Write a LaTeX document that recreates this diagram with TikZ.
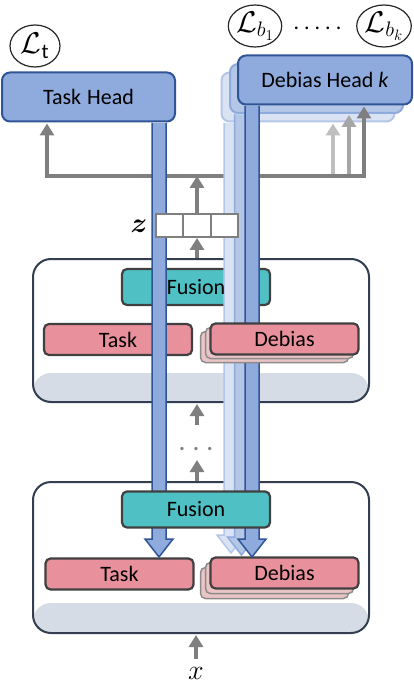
\documentclass[tikz,border=0pt]{standalone}
\usepackage{fix-cm}
\usepackage{amsmath}
\usepackage{fontspec}
\setmainfont{Carlito}
\usetikzlibrary{arrows.meta,shapes.geometric,calc}
\definecolor{hfill}{HTML}{8FAADC}
\definecolor{hdraw}{HTML}{2F5597}
\definecolor{htwofill}{HTML}{B4C7E7}
\definecolor{htwodraw}{HTML}{8FAADC}
\definecolor{hthreefill}{HTML}{DAE3F3}
\definecolor{hthreedraw}{HTML}{B4C7E7}
\definecolor{fusfill}{HTML}{4FC1C5}
\definecolor{pinkfill}{HTML}{E8909C}
\definecolor{shfill}{HTML}{EBC4C5}
\definecolor{shdraw}{HTML}{8C8C8C}
\definecolor{bline}{HTML}{404040}
\definecolor{cline}{HTML}{333F50}
\definecolor{bandfill}{HTML}{D6DCE5}
\definecolor{garr}{HTML}{7F7F7F}
\definecolor{garrtwo}{HTML}{A6A6A6}
\definecolor{garrthree}{HTML}{BFBFBF}
\tikzset{
  lbl/.style={font=\fontsize{22}{26}\selectfont},
  blockbox/.style={lbl, draw=bline, line width=2.2pt, rounded corners=5pt, inner sep=0pt},
  fusionbox/.style={blockbox, fill=fusfill, minimum width=148pt, minimum height=36pt},
  taskbox/.style={blockbox, fill=pinkfill, minimum width=148pt, minimum height=31pt},
  shadowbox/.style={draw=shdraw, fill=shfill, line width=1.5pt, rounded corners=5pt, minimum width=148pt, minimum height=31pt, inner sep=0pt},
  headbox/.style={lbl, rounded corners=8pt, line width=2pt, minimum width=173pt, minimum height=49pt, inner sep=0pt},
  container/.style={draw=cline, fill=white, line width=2pt, rounded corners=18pt, inner sep=0pt,
    path picture={\fill[bandfill] ([yshift=#1]path picture bounding box.south west) rectangle (path picture bounding box.south east);}},
  lossnode/.style={ellipse, draw=black!85, line width=1.2pt, minimum width=50pt, minimum height=42pt, inner sep=0pt, font=\fontsize{30}{34}\selectfont},
  garrow/.style={draw=garr, line width=4pt, -{Triangle[width=14pt,length=12pt]}},
  zcell/.style={draw=garr, fill=white, line width=2pt, minimum width=27.3pt, minimum height=23pt, inner sep=0pt},
}
\newcommand{\mybluebar}[5]{%
  \fill[#4] ({#1-7},#2) -- ({#1-7},{#3-18}) -- ({#1-14},{#3-18}) -- (#1,#3) -- ({#1+14},{#3-18}) -- ({#1+7},{#3-18}) -- ({#1+7},#2) -- cycle;
  \draw[#5, line width=1.5pt, line join=miter] ({#1-7},#2) -- ({#1-7},{#3-18}) -- ({#1-14},{#3-18}) -- (#1,#3) -- ({#1+14},{#3-18}) -- ({#1+7},{#3-18}) -- ({#1+7},#2);}
\begin{document}
\begin{tikzpicture}[x=1pt,y=-1pt]
\useasboundingbox (0,0) rectangle (414,684);
% containers
\node[container=29pt, minimum width=336pt, minimum height=143pt] (up) at (201,330.5) {};
\node[container=30pt, minimum width=336pt, minimum height=151pt] (lo) at (201,557.5) {};
% heads
\node[headbox, fill=hthreefill, draw=hthreedraw] (dh3) at (308,97) {};
\node[headbox, fill=htwofill, draw=htwodraw] (dh2) at (316.5,88.5) {};
\node[headbox, fill=hfill, draw=hdraw, minimum width=174pt] (dh1) at (325,80) {Debias Head \textit{k}};
\node[headbox, fill=hfill, draw=hdraw] (taskhead) at (88.5,97) {Task\hspace{1pt} Head};
% gray connectors to heads
\coordinate (lx) at (47,176);
\coordinate (rx) at (364,176);
\coordinate (c3) at (333,176);
\coordinate (c2) at (349,176);
\draw[garrow, draw=garrthree] (c3) -- ([yshift=-1pt]c3 |- dh3.south);
\draw[garrow, draw=garrtwo] (c2) -- ([yshift=-1pt]c2 |- dh2.south);
\draw[draw=garr, line width=4pt, line join=miter, {Triangle[width=14pt,length=12pt]}-{Triangle[width=14pt,length=12pt]}]
  ([yshift=-1pt]lx |- taskhead.south) -- (lx) -- (rx) -- ([yshift=-1pt]rx |- dh1.south);
% blocks under the bars
\node[fusionbox] (fu1) at (196,287) {};
\node[taskbox] (ta1) at (118,339.5) {Task};
\node[taskbox] (ta2) at (119.5,574) {Task};
\node[shadowbox] (ds2b) at (274.5,583) {};
\node[shadowbox] (ds2a) at (279.5,578) {};
\node[taskbox] (de2) at (284.5,573) {Debias};
% blue bars
\mybluebar{231}{123}{553}{hthreefill}{hthreedraw}
\mybluebar{241.5}{114.5}{555}{htwofill}{htwodraw}
\mybluebar{252}{106}{557}{hfill}{hdraw}
\mybluebar{159}{123}{557}{hfill}{hdraw}
% blocks over the bars
\node[lbl, inner sep=0pt] (fu1t) at (196,287) {Fusion};
\node[shadowbox] (ds1b) at (274.5,347) {};
\node[shadowbox] (ds1a) at (279.5,343) {};
\node[taskbox] (de1) at (284.5,339) {Debias};
\node[fusionbox] (fu2) at (196,509.5) {Fusion};
% z vector
\node[zcell] (z1) at (169.6,225.5) {};
\node[zcell] (z2) at (197,225.5) {};
\node[zcell] (z3) at (224.3,225.5) {};
\node[font=\fontsize{28}{32}\selectfont, inner sep=0pt] (zl) at (139,226) {$\boldsymbol{z}$};
% gray arrows
\draw[garrow] (z2.south |- up.north) -- (z2.south);
\draw[garrow] (z2.north) -- (z2.north |- lx);
\coordinate (m1) at (197,425);
\coordinate (m2) at (197,460);
\draw[garrow] (m2 |- lo.north) -- (m2);
\draw[garrow] (m1) -- ([yshift=-1pt]m1 |- up.south);
\node[lbl, text=garr, inner sep=0pt] (mdots) at (196,449) {\textbf{.}\hspace{8pt}\textbf{.}\hspace{8pt}\textbf{.}};
\node[font=\fontsize{28}{32}\selectfont, inner sep=0pt] (xin) at (196,673) {$x$};
\draw[garrow] ([yshift=8pt]xin.north) -- ([yshift=-1pt]xin.north |- lo.south);
% losses
\node[lossnode] (lt) at (35,46) {$\mathcal{L}_{\mathrm{t}}$};
\node[lossnode] (lb1) at (255,26) {$\mathcal{L}_{b_1}$};
\node[lossnode] (lbk) at (384,26) {$\mathcal{L}_{b_k}$};
\node[lbl, inner sep=0pt] (tdots) at (317.5,28) {.\hspace{5pt}.\hspace{5pt}.\hspace{5pt}.\hspace{5pt}.};
\end{tikzpicture}
\end{document}
